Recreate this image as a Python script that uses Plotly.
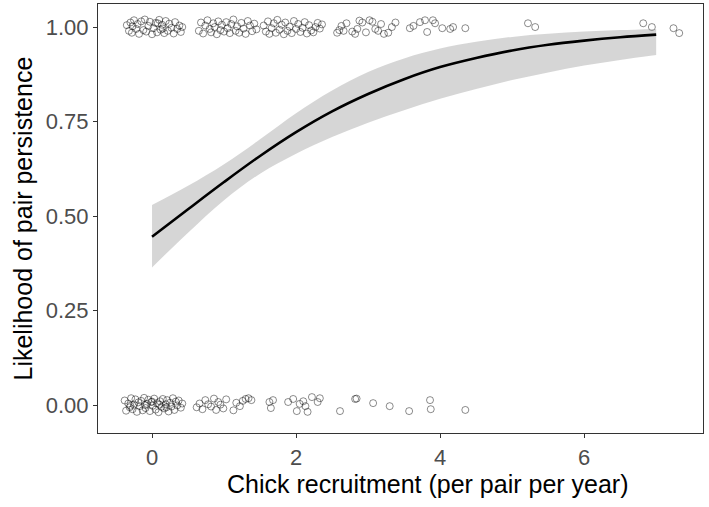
import plotly.graph_objects as go

# --- Observed data (jittered) : pairs that persisted (y ~ 1) ---
top_x = [-0.35,-0.32,-0.30,-0.28,-0.25,-0.22,-0.20,-0.18,-0.15,-0.12,-0.10,-0.08,-0.05,-0.03,0.00,0.02,0.05,0.07,0.10,0.12,0.14,0.17,0.19,0.22,0.24,0.27,0.30,0.32,0.35,0.38,0.40,0.42,-0.27,0.08,0.15,
         0.65,0.68,0.71,0.74,0.77,0.80,0.82,0.85,0.87,0.90,0.92,0.95,0.97,1.00,1.03,1.05,1.08,1.10,1.13,1.16,1.18,1.21,1.24,1.27,1.30,1.33,1.36,1.39,1.42,1.45,
         1.55,1.58,1.61,1.63,1.66,1.69,1.72,1.74,1.77,1.80,1.83,1.85,1.88,1.91,1.94,1.97,2.00,2.03,2.06,2.09,2.12,2.15,2.18,2.21,2.24,2.27,2.30,2.33,2.36,
         2.57,2.60,2.63,2.66,2.70,2.78,2.82,2.85,2.88,2.92,2.97,3.02,3.06,3.10,3.14,3.18,3.22,3.28,3.33,3.38,
         3.58,3.63,3.72,3.79,3.82,3.90,3.93,4.03,4.14,4.18,4.35,
         5.22,5.32,6.82,6.94,7.24,7.32]
top_y = [1.005,0.99,1.012,0.985,1.018,0.995,1.008,0.982,1.015,0.992,1.02,0.988,1.003,1.014,0.981,0.997,1.011,0.986,1.019,0.993,1.006,0.984,1.016,0.99,1.009,0.998,0.983,1.013,0.995,1.004,0.987,1.0,1.002,1.01,0.996,
         0.99,1.012,0.983,1.004,1.018,0.995,0.986,1.01,1.0,0.981,1.015,0.992,1.006,0.988,1.013,0.997,0.984,1.008,1.02,0.99,1.002,0.985,1.011,0.996,0.982,1.016,1.004,0.989,1.009,0.994,
         1.004,0.988,1.015,0.982,0.997,1.01,0.985,1.019,0.993,1.006,0.981,1.012,0.99,1.001,0.984,1.016,0.995,1.008,0.987,0.998,1.013,0.983,1.005,0.991,0.986,1.0,1.011,0.996,1.007,
         0.985,0.992,1.003,0.99,1.01,0.988,0.982,0.995,1.017,1.012,0.986,1.018,1.014,0.995,0.99,1.008,0.982,0.985,1.0,1.012,
         0.997,1.003,1.013,1.018,0.987,1.018,1.01,0.997,0.995,1.0,0.997,
         1.01,1.0,1.01,1.0,0.997,0.984]

# --- Observed data (jittered) : pairs that split (y ~ 0) ---
bot_x = [-0.38,-0.36,-0.33,-0.31,-0.29,-0.27,-0.25,-0.23,-0.21,-0.19,-0.17,-0.15,-0.13,-0.11,-0.09,-0.07,-0.05,-0.03,-0.01,0.01,0.03,0.05,0.07,0.09,0.11,0.13,0.15,0.17,0.19,0.21,0.23,0.25,0.27,0.29,0.31,0.33,0.35,0.37,0.40,0.42,-0.30,-0.10,0.10,0.20,0.00,
         0.62,0.66,0.70,0.74,0.78,0.82,0.86,0.89,0.92,0.95,0.99,1.03,
         1.13,1.17,1.22,1.26,1.30,1.34,1.38,
         1.63,1.65,1.68,1.89,1.96,2.01,2.05,2.10,2.13,2.16,2.22,2.30,2.33,
         2.61,2.82,2.84,3.07,3.30,3.57,3.86,3.87,4.35]
bot_y = [0.012,-0.015,0.004,-0.006,0.018,-0.011,0.001,0.015,-0.018,0.007,-0.003,0.011,-0.014,0.019,-0.008,0.003,0.014,-0.016,0.008,-0.002,0.017,-0.012,0.005,-0.019,0.01,-0.005,0.016,-0.009,0.002,0.013,-0.017,0.006,-0.004,0.018,-0.013,0.009,-0.001,0.012,-0.007,0.004,-0.002,0.0,0.001,-0.006,0.009,
         -0.006,0.004,-0.011,0.013,0.002,-0.004,0.017,-0.013,0.008,0.001,-0.009,0.015,
         -0.014,0.006,-0.003,0.011,0.016,0.018,0.013,
         0.008,-0.008,0.013,0.008,0.016,-0.016,0.003,0.01,-0.003,-0.018,0.021,0.008,0.018,
         -0.016,0.016,0.017,0.005,-0.003,-0.016,0.013,-0.011,-0.013]

# --- Fitted logistic curve and 95% CI ---
fit_x = [0, 0.5, 1, 1.5, 2, 2.5, 3, 3.5, 4, 4.5, 5, 5.5, 6, 6.5, 7]
fit_y = [0.445, 0.518, 0.590, 0.659, 0.722, 0.777, 0.823, 0.862, 0.894, 0.918, 0.938, 0.953, 0.964, 0.973, 0.980]
fit_lo = [0.364, 0.456, 0.542, 0.612, 0.665, 0.709, 0.747, 0.780, 0.810, 0.836, 0.860, 0.880, 0.898, 0.913, 0.926]
fit_hi = [0.529, 0.580, 0.637, 0.703, 0.772, 0.832, 0.881, 0.917, 0.943, 0.961, 0.974, 0.982, 0.988, 0.992, 0.995]

x_ticks = [0, 2, 4, 6]
y_ticks = [0, 0.25, 0.5, 0.75, 1.0]
y_tick_text = ["0.00", "0.25", "0.50", "0.75", "1.00"]

x_title = "Chick recruitment (per pair per year)"
y_title = "Likelihood of pair persistence"

FONT = "Liberation Sans, Arial, sans-serif"
point_marker = dict(symbol="circle-open", size=7, color="rgba(0,0,0,0.5)", line=dict(width=0.9))

fig = go.Figure()
fig.add_trace(go.Scatter(x=top_x + bot_x, y=top_y + bot_y, mode="markers",
                         marker=point_marker, hoverinfo="skip", showlegend=False))
fig.add_trace(go.Scatter(x=fit_x, y=fit_lo, mode="lines", line=dict(width=0, shape="spline"),
                         showlegend=False, hoverinfo="skip"))
fig.add_trace(go.Scatter(x=fit_x, y=fit_hi, mode="lines", line=dict(width=0, shape="spline"),
                         fill="tonexty", fillcolor="rgba(153,153,153,0.4)", showlegend=False, hoverinfo="skip"))
fig.add_trace(go.Scatter(x=fit_x, y=fit_y, mode="lines", line=dict(color="black", width=2.6, shape="spline"),
                         showlegend=False))

axis_common = dict(showgrid=False, zeroline=False, showline=True, linecolor="#333333", linewidth=1.2,
                   mirror=True, ticks="outside", ticklen=4, tickcolor="#333333", tickwidth=1.1,
                   automargin=False,
                   tickfont=dict(family=FONT, size=22, color="#4D4D4D"))

fig.update_layout(
    width=709, height=507,
    margin=dict(l=98, r=6, t=4, b=74),
    plot_bgcolor="white", paper_bgcolor="white",
    xaxis=dict(range=[-0.75, 7.65], tickvals=x_ticks, **axis_common),
    yaxis=dict(range=[-0.074, 1.061], tickvals=y_ticks, ticktext=y_tick_text, **axis_common),
    annotations=[
        dict(text=x_title, xref="paper", yref="paper", x=0.545, y=0, yshift=-51,
             xanchor="center", yanchor="middle", showarrow=False,
             font=dict(family=FONT, size=25, color="black")),
        dict(text=y_title, xref="paper", yref="paper", x=0, y=0.5, xshift=-76,
             xanchor="center", yanchor="middle", textangle=-90, showarrow=False,
             font=dict(family=FONT, size=25, color="black")),
    ],
)

fig.write_html("out.html", config={"displayModeBar": False},
               post_script="document.body.style.margin='0px';")
